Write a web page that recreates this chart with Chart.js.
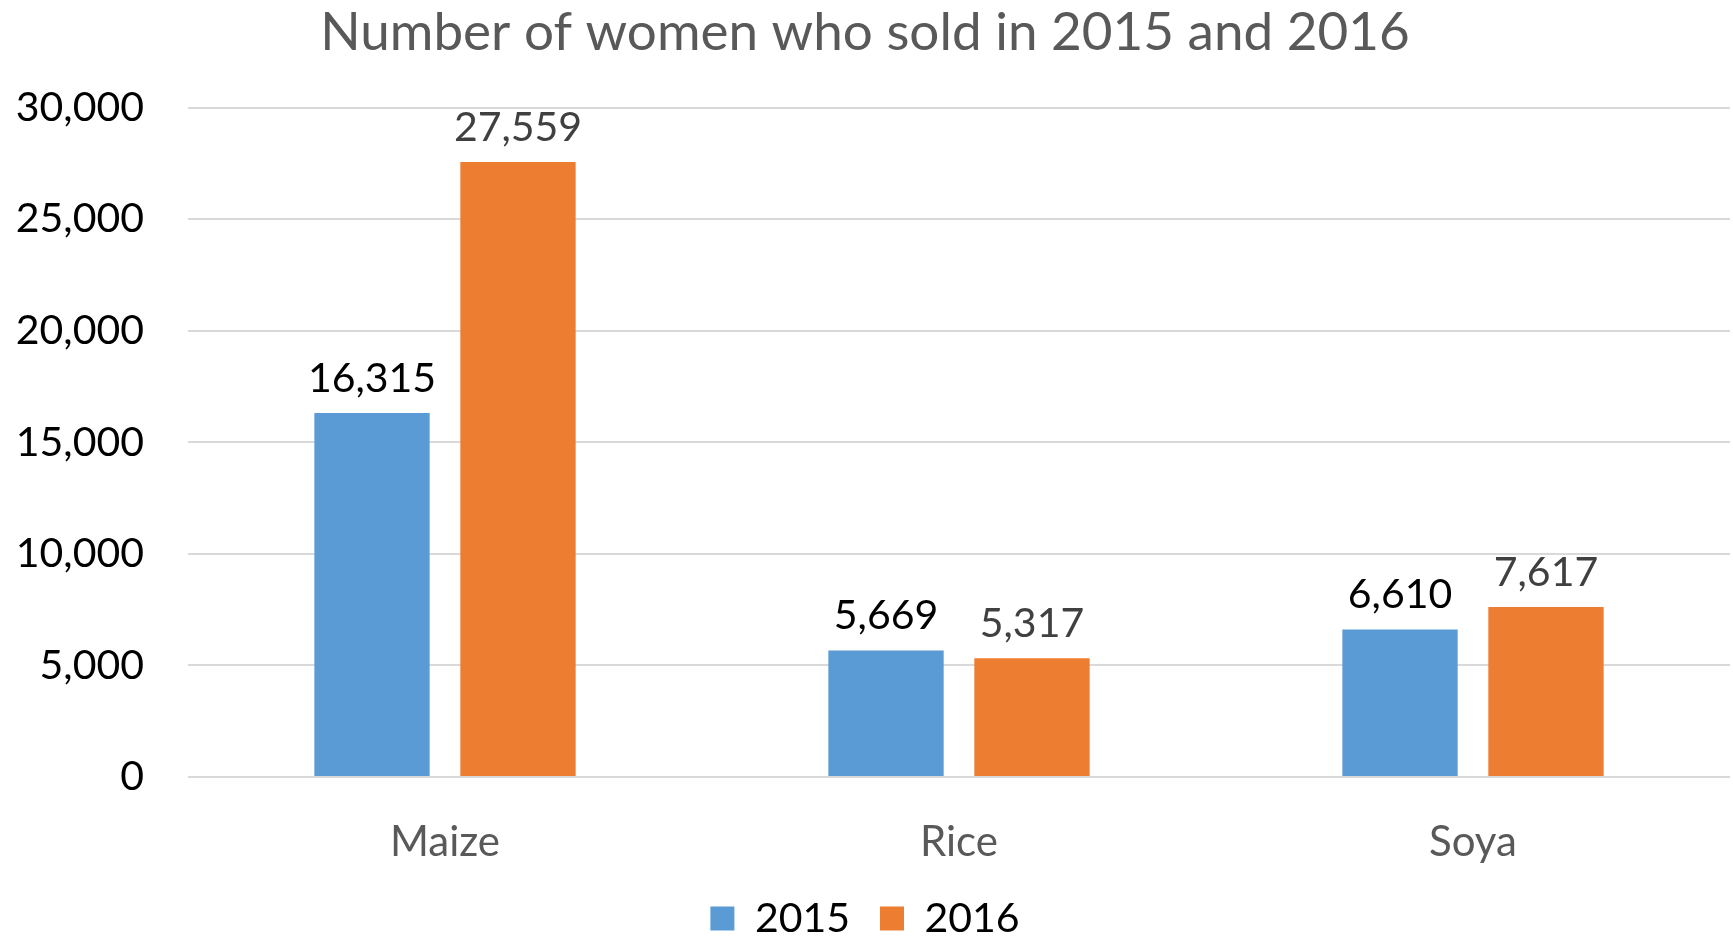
<!DOCTYPE html>
<html>
<head>
<meta charset="utf-8">
<script src="https://cdn.jsdelivr.net/npm/chart.js@4"></script>
<style>
  body { margin: 0; background: #fff; }
  #wrap { width: 1733px; height: 937px; }
</style>
</head>
<body>
<div id="wrap"><canvas id="salesChart" width="1733" height="937"></canvas></div>
<script>
const crops = ['Maize', 'Rice', 'Soya'];
const sold2015 = [16315, 5669, 6610];
const sold2016 = [27559, 5317, 7617];
const yTicks = [0, 5000, 10000, 15000, 20000, 25000, 30000];

const fontFamily = "Lato, 'Noto Sans', sans-serif";

// draws the value above each bar
const valueLabels = {
    id: 'valueLabels',
    afterDatasetsDraw(chart) {
        const ctx = chart.ctx;
        ctx.save();
        ctx.font = '41px ' + fontFamily;
        ctx.textAlign = 'center';
        ctx.textBaseline = 'bottom';
        chart.data.datasets.forEach((ds, i) => {
            ctx.fillStyle = ds.labelColor;
            chart.getDatasetMeta(i).data.forEach((bar, j) => {
                ctx.fillText(ds.data[j].toLocaleString('en-US'), bar.x, bar.y - 14);
            });
        });
        ctx.restore();
    }
};

new Chart(document.getElementById('salesChart').getContext('2d'), {
    type: 'bar',
    data: {
        labels: crops,
        datasets: [
            { label: '2015', data: sold2015, backgroundColor: '#5b9bd5', labelColor: '#000000' },
            { label: '2016', data: sold2016, backgroundColor: '#ed7d31', labelColor: '#404040' }
        ]
    },
    options: {
        responsive: false,
        animation: false,
        categoryPercentage: 0.568,
        barPercentage: 0.79,
        layout: { padding: { left: 0, right: 3, top: 0, bottom: 0 } },
        scales: {
            x: {
                afterFit: axis => { axis.height = 91; },
                grid: { display: false },
                border: { display: false },
                ticks: { color: '#595959', font: { family: fontFamily, size: 42 }, padding: 32 }
            },
            y: {
                min: 0,
                max: 30000,
                afterBuildTicks: axis => { axis.ticks = yTicks.map(v => ({ value: v })); },
                afterFit: axis => { axis.width = 188; },
                grid: { color: '#d9d9d9', lineWidth: 2, drawTicks: false },
                border: { display: false },
                ticks: {
                    color: '#000000',
                    font: { family: fontFamily, size: 41 },
                    padding: 44,
                    callback: v => v.toLocaleString('en-US')
                }
            }
        },
        plugins: {
            title: {
                display: true,
                text: 'Number of women who sold in 2015 and 2016',
                color: '#595959',
                font: { family: fontFamily, size: 53, weight: 'normal' },
                padding: { top: 1, bottom: 43 }
            },
            legend: {
                position: 'bottom',
                maxHeight: 69,
                labels: {
                    color: '#000000',
                    font: { family: fontFamily, size: 41 },
                    boxWidth: 24,
                    boxHeight: 24,
                    padding: 30
                }
            },
            tooltip: { enabled: false }
        }
    },
    plugins: [valueLabels]
});
</script>
</body>
</html>
